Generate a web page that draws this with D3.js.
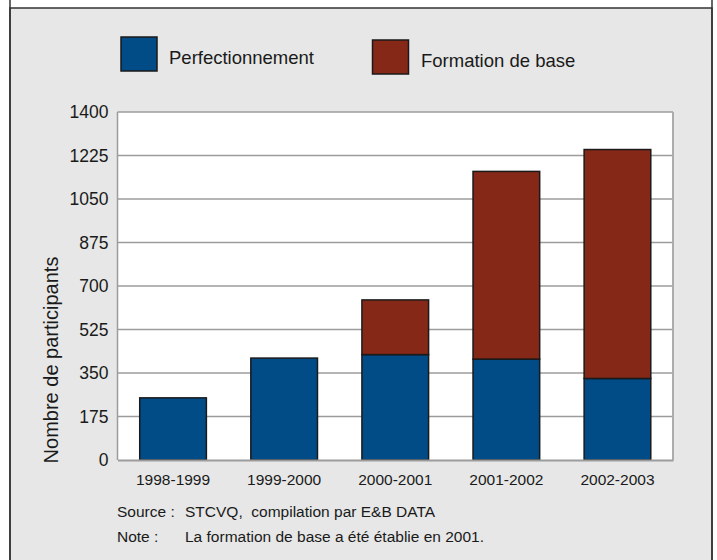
<!DOCTYPE html>
<html>
<head>
<meta charset="utf-8">
<script src="https://cdn.jsdelivr.net/npm/d3@7"></script>
<style>
  body { margin: 0; background: #fff; }
  svg { display: block; font-family: "Liberation Sans", Arial, sans-serif; }
  .axis text { fill: #1a1a1a; }
</style>
</head>
<body>
<svg id="chart"></svg>
<script>
// Data
const years = ['1998-1999', '1999-2000', '2000-2001', '2001-2002', '2002-2003'];
const perfectionnement = [250, 410, 424, 406, 328];
const formationBase = [0, 0, 220, 755, 921];
const seriesNames = ['Perfectionnement', 'Formation de base'];
const seriesColors = ['#014b87', '#852817'];
const yTicks = [0, 175, 350, 525, 700, 875, 1050, 1225, 1400];

const width = 717, height = 560;
const margin = {top: 112, right: 44, bottom: 100, left: 117.5};
const innerW = width - margin.left - margin.right;
const innerH = height - margin.top - margin.bottom;

const svg = d3.select('#chart')
    .attr('width', width)
    .attr('height', height);

// Grey panel with dark border
svg.append('rect')
    .attr('x', 10).attr('y', 8)
    .attr('width', 702).attr('height', 560)
    .attr('fill', '#e6e7e6')
    .attr('stroke', '#333').attr('stroke-width', 1.5);
[10, 712].forEach(x => {
  svg.append('line')
      .attr('x1', x).attr('x2', x).attr('y1', 0).attr('y2', height)
      .attr('stroke', '#333').attr('stroke-width', 1.5);
});

// Legend
const legendPos = [{x: 121, y: 37, tx: 169, ty: 64}, {x: 372.5, y: 40, tx: 421, ty: 67}];
seriesNames.forEach((name, i) => {
  const p = legendPos[i];
  svg.append('rect')
      .attr('x', p.x).attr('y', p.y)
      .attr('width', 36).attr('height', 34)
      .attr('fill', seriesColors[i])
      .attr('stroke', '#1a1a1a').attr('stroke-width', 1.5);
  svg.append('text')
      .attr('x', p.tx).attr('y', p.ty)
      .attr('font-size', '18.5px')
      .attr('fill', '#1a1a1a')
      .text(name);
});

const chart = svg.append('g')
    .attr('transform', `translate(${margin.left},${margin.top})`);

const xScale = d3.scaleBand()
    .domain(years)
    .range([0, innerW])
    .paddingInner(0.4)
    .paddingOuter(0.2);

const yScale = d3.scaleLinear()
    .domain([0, 1400])
    .range([innerH, 0]);

// Plot background
chart.append('rect')
    .attr('width', innerW).attr('height', innerH)
    .attr('fill', '#fff');

// Gridlines
chart.append('g')
    .selectAll('line')
    .data(yTicks.slice(1))
  .join('line')
    .attr('x1', 0).attr('x2', innerW)
    .attr('y1', d => yScale(d)).attr('y2', d => yScale(d))
    .attr('stroke', '#9c9c9c').attr('stroke-width', 1.5);

// Plot frame: left, right
chart.append('line')
    .attr('x1', 0).attr('x2', 0).attr('y1', 0).attr('y2', innerH)
    .attr('stroke', '#9c9c9c').attr('stroke-width', 1.5);
chart.append('line')
    .attr('x1', innerW).attr('x2', innerW).attr('y1', 0).attr('y2', innerH)
    .attr('stroke', '#acacac').attr('stroke-width', 2);

// Stacked bars
const rows = years.map((y, i) => ({year: y, p: perfectionnement[i], f: formationBase[i]}));
const stacked = d3.stack().keys(['p', 'f'])(rows);

chart.selectAll('.layer')
    .data(stacked)
  .join('g')
    .attr('class', 'layer')
    .attr('fill', (d, i) => seriesColors[i])
  .selectAll('rect')
    .data(d => d.filter(s => s[1] - s[0] > 0))
  .join('rect')
    .attr('x', d => xScale(d.data.year))
    .attr('width', xScale.bandwidth())
    .attr('y', d => yScale(d[1]))
    .attr('height', d => yScale(d[0]) - yScale(d[1]))
    .attr('stroke', '#1a1a1a')
    .attr('stroke-width', 1.5);

// Axes
const yAxis = d3.axisLeft(yScale)
    .tickValues(yTicks)
    .tickFormat(d3.format('d'))
    .tickSize(0)
    .tickPadding(9);
const yAxisG = chart.append('g').attr('class', 'axis').call(yAxis);
yAxisG.select('.domain').remove();
yAxisG.selectAll('text').attr('font-size', '17.5px').attr('font-family', null);

const xAxis = d3.axisBottom(xScale).tickSize(0).tickPadding(14);
const xAxisG = chart.append('g').attr('class', 'axis')
    .attr('transform', `translate(0,${innerH})`)
    .call(xAxis);
xAxisG.select('.domain').attr('stroke', '#9c9c9c').attr('stroke-width', 2);
xAxisG.selectAll('text').attr('font-size', '15.5px').attr('font-family', null);

// Y axis title
svg.append('text')
    .attr('transform', 'translate(58,360) rotate(-90)')
    .attr('text-anchor', 'middle')
    .attr('font-size', '20px')
    .attr('fill', '#1a1a1a')
    .text('Nombre de participants');

// Source and note
const notes = [
  {label: 'Source :', text: 'STCVQ,  compilation par E&B DATA', y: 517},
  {label: 'Note :', text: 'La formation de base a été établie en 2001.', y: 542}
];
notes.forEach(n => {
  svg.append('text')
      .attr('x', 117).attr('y', n.y)
      .attr('font-size', '15.5px').attr('fill', '#1a1a1a')
      .text(n.label);
  svg.append('text')
      .attr('x', 185).attr('y', n.y)
      .attr('font-size', '15.5px').attr('fill', '#1a1a1a')
      .style('white-space', 'pre')
      .text(n.text);
});
</script>
</body>
</html>
